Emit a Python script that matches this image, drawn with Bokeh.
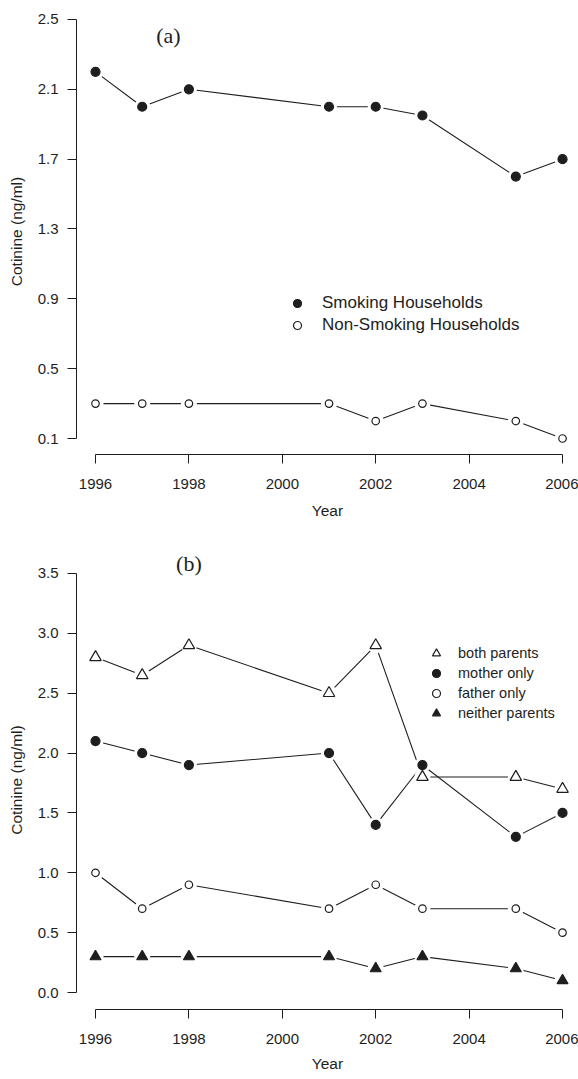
from bokeh.plotting import figure
from bokeh.layouts import column
from bokeh.models import (FixedTicker, PrintfTickFormatter, Legend, LegendItem,
                          Range1d, Label)
from bokeh.embed import file_html
from bokeh.resources import INLINE

# ---- data ----
years = [1996, 1997, 1998, 2001, 2002, 2003, 2005, 2006]
smoking = [2.2, 2.0, 2.1, 2.0, 2.0, 1.95, 1.6, 1.7]
non_smoking = [0.3, 0.3, 0.3, 0.3, 0.2, 0.3, 0.2, 0.1]

both_parents = [2.8, 2.65, 2.9, 2.5, 2.9, 1.8, 1.8, 1.7]
mother_only = [2.1, 2.0, 1.9, 2.0, 1.4, 1.9, 1.3, 1.5]
father_only = [1.0, 0.7, 0.9, 0.7, 0.9, 0.7, 0.7, 0.5]
neither_parents = [0.3, 0.3, 0.3, 0.3, 0.2, 0.3, 0.2, 0.1]

x_ticks = [1996, 1998, 2000, 2002, 2004, 2006]
y_ticks_a = [0.1, 0.5, 0.9, 1.3, 1.7, 2.1, 2.5]
y_ticks_b = [0.0, 0.5, 1.0, 1.5, 2.0, 2.5, 3.0, 3.5]

INK = "#1e1e1e"
FONT = "Liberation Sans"


def style(p, yticks, xlabel_standoff):
    p.outline_line_color = None
    p.xgrid.grid_line_color = None
    p.ygrid.grid_line_color = None
    for ax in (p.xaxis[0], p.yaxis[0]):
        ax.axis_line_color = INK
        ax.axis_line_width = 1
        ax.major_tick_line_color = INK
        ax.major_tick_line_width = 1
        ax.minor_tick_line_color = None
        ax.major_tick_in = 0
        ax.major_tick_out = 9
        ax.major_label_text_font = FONT
        ax.major_label_text_font_size = "15px"
        ax.major_label_text_color = INK
        ax.axis_label_text_font = FONT
        ax.axis_label_text_font_size = "15.5px"
        ax.axis_label_text_font_style = "normal"
        ax.axis_label_text_color = INK
    xa = p.xaxis[0]
    xa.ticker = FixedTicker(ticks=x_ticks)
    xa.formatter = PrintfTickFormatter(format="%d")
    xa.bounds = (x_ticks[0], x_ticks[-1])
    xa.major_label_standoff = 15
    xa.axis_label = "Year"
    xa.axis_label_standoff = xlabel_standoff
    ya = p.yaxis[0]
    ya.ticker = FixedTicker(ticks=yticks)
    ya.formatter = PrintfTickFormatter(format="%.1f")
    ya.bounds = (yticks[0], yticks[-1])
    ya.major_label_standoff = 9
    ya.axis_label = "Cotinine (ng/ml)"
    ya.axis_label_standoff = 10


def series(p, ys, marker, filled, size, halo=16):
    p.line(years, ys, line_color=INK, line_width=1.1)
    return dict(ys=ys, marker=marker, filled=filled, size=size, halo=halo)


def draw_points(p, specs):
    for s in specs:
        p.scatter(years, s["ys"], marker="circle", size=s["halo"],
                  fill_color="white", line_color=None)
    rends = []
    for s in specs:
        r = p.scatter(years, s["ys"], marker=s["marker"], size=s["size"],
                      fill_color=INK if s["filled"] else "white",
                      line_color=INK, line_width=1.2)
        rends.append(r)
    return rends


# ---------------- panel (a) ----------------
pa = figure(width=578, height=530, output_backend="svg", toolbar_location=None,
            x_range=Range1d(1995.593, 2006.342), y_range=Range1d(0.0084, 2.5628),
            min_border_left=76, min_border_right=0, min_border_top=8,
            min_border_bottom=76, background_fill_color="white")
style(pa, y_ticks_a, 10)
specs_a = [series(pa, smoking, "circle", True, 9),
           series(pa, non_smoking, "circle", False, 7.5)]
ra = draw_points(pa, specs_a)
leg_a = Legend(items=[LegendItem(label="Smoking Households", renderers=[ra[0]]),
                      LegendItem(label="Non-Smoking Households", renderers=[ra[1]])],
               location=(211, 119), padding=0, margin=0, spacing=2,
               glyph_width=20, glyph_height=20, label_height=20,
               label_standoff=15, border_line_color=None,
               background_fill_alpha=0, label_text_font=FONT,
               label_text_font_size="17px", label_text_color=INK)
pa.add_layout(leg_a)
pa.add_layout(Label(x=1997.56, y=2.41, text="(a)", text_font="Liberation Serif",
                    text_font_size="22px", text_align="center",
                    text_baseline="middle", text_color=INK))

# ---------------- panel (b) ----------------
pb = figure(width=578, height=549, output_backend="svg", toolbar_location=None,
            x_range=Range1d(1995.593, 2006.342), y_range=Range1d(-0.142, 3.692),
            min_border_left=76, min_border_right=0, min_border_top=20,
            min_border_bottom=70, background_fill_color="white")
style(pb, y_ticks_b, 8)
specs_b = [series(pb, both_parents, "triangle", False, 11.5),
           series(pb, mother_only, "circle", True, 9),
           series(pb, father_only, "circle", False, 7.5),
           series(pb, neither_parents, "triangle", True, 11)]
rb = draw_points(pb, specs_b)
leg_b = Legend(items=[LegendItem(label="both parents", renderers=[rb[0]]),
                      LegendItem(label="mother only", renderers=[rb[1]]),
                      LegendItem(label="father only", renderers=[rb[2]]),
                      LegendItem(label="neither parents", renderers=[rb[3]])],
               location=(350, 286), padding=0, margin=0, spacing=0,
               glyph_width=20, glyph_height=20, label_height=20,
               label_standoff=12, border_line_color=None,
               background_fill_alpha=0, label_text_font=FONT,
               label_text_font_size="14.5px", label_text_color=INK)
pb.add_layout(leg_b)
pb.add_layout(Label(x=1998.0, y=3.58, text="(b)", text_font="Liberation Serif",
                    text_font_size="22px", text_align="center",
                    text_baseline="middle", text_color=INK))

layout = column(pa, pb, spacing=0)
open("out.html", "w").write(file_html(layout, INLINE))
